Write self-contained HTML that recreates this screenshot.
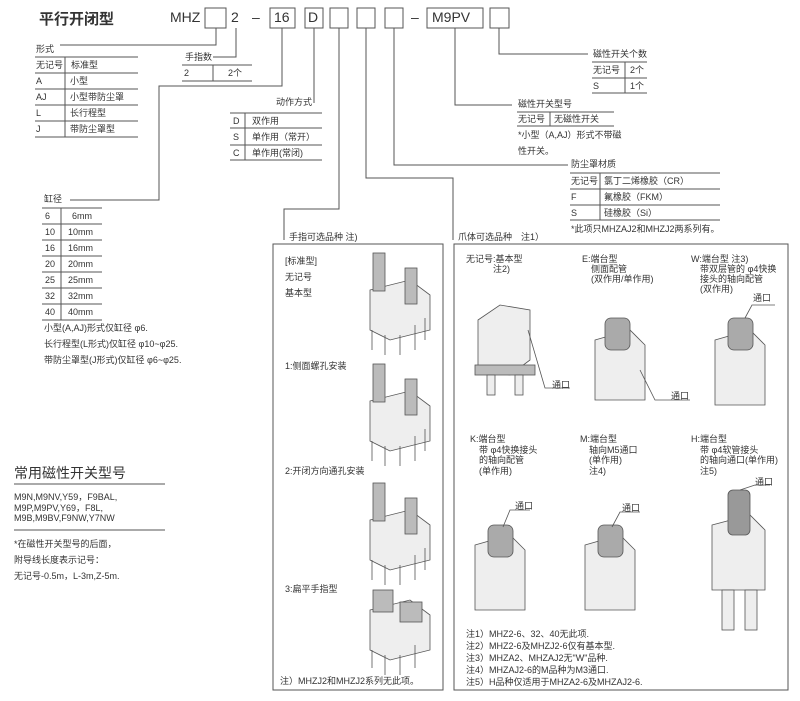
<!DOCTYPE html>
<html><head><meta charset="utf-8"><style>
body{margin:0;width:800px;height:701px;background:#fff;position:relative;overflow:hidden;font-family:"Liberation Sans","Noto Sans CJK SC",sans-serif;color:#333}
.t{position:absolute;font-size:9px;white-space:nowrap;line-height:1}
svg{position:absolute;left:0;top:0}
</style></head><body>
<svg width="800" height="701" viewBox="0 0 800 701">
<g fill="none" stroke="#555" stroke-width="1">
<!-- code boxes -->
<rect x="205" y="8" width="21" height="20"/><rect x="270" y="8" width="25" height="20"/><rect x="305" y="8" width="18" height="20"/>
<rect x="330" y="8" width="18" height="20"/><rect x="357" y="8" width="18" height="20"/><rect x="385" y="8" width="18" height="20"/>
<rect x="427" y="8" width="56" height="20"/><rect x="490" y="8" width="19" height="20"/>
<!-- connectors -->
<polyline points="216,28 216,45 60,45"/>
<polyline points="236,28 236,57 213,57"/>
<polyline points="282,28 282,86 159,86 159,200 70,200"/>
<polyline points="314,28 314,103"/>
<polyline points="339,28 339,209 284,209 284,240"/>
<polyline points="366,28 366,178 453,178 453,240"/>
<polyline points="394,28 394,165 568,165"/>
<polyline points="455,28 455,105 512,105"/>
<polyline points="499,28 499,54 588,54"/>
<!-- panels -->
<rect x="273" y="244" width="170" height="446"/>
<rect x="454" y="244" width="334" height="446"/>
</g>
<g stroke="#555" stroke-width="1">
<!-- 形式 table -->
<line x1="35" y1="57" x2="138" y2="57"/><line x1="35" y1="73" x2="138" y2="73"/><line x1="35" y1="89" x2="138" y2="89"/><line x1="35" y1="105" x2="138" y2="105"/><line x1="35" y1="121" x2="138" y2="121"/><line x1="35" y1="137" x2="138" y2="137"/><line x1="65" y1="57" x2="65" y2="137"/>
<!-- 手指数 -->
<line x1="182" y1="65" x2="252" y2="65"/><line x1="182" y1="81" x2="252" y2="81"/><line x1="213" y1="65" x2="213" y2="81"/>
<!-- 动作方式 -->
<line x1="230" y1="113" x2="322" y2="113"/><line x1="230" y1="128" x2="322" y2="128"/><line x1="230" y1="145" x2="322" y2="145"/><line x1="230" y1="160" x2="322" y2="160"/><line x1="245" y1="113" x2="245" y2="160"/>
<!-- 缸径 -->
<line x1="42" y1="208" x2="102" y2="208"/><line x1="42" y1="224" x2="102" y2="224"/><line x1="42" y1="240" x2="102" y2="240"/><line x1="42" y1="256" x2="102" y2="256"/><line x1="42" y1="272" x2="102" y2="272"/><line x1="42" y1="288" x2="102" y2="288"/><line x1="42" y1="304" x2="102" y2="304"/><line x1="42" y1="320" x2="102" y2="320"/><line x1="61" y1="208" x2="61" y2="320"/>
<!-- 常用 -->
<line x1="14" y1="484" x2="165" y2="484"/><line x1="14" y1="530" x2="165" y2="530"/>
<!-- 磁性开关个数 -->
<line x1="592" y1="62" x2="647" y2="62"/><line x1="592" y1="78" x2="647" y2="78"/><line x1="592" y1="93" x2="647" y2="93"/><line x1="625" y1="62" x2="625" y2="93"/>
<!-- 磁性开关型号 -->
<line x1="517" y1="112" x2="614" y2="112"/><line x1="517" y1="126" x2="614" y2="126"/><line x1="550" y1="112" x2="550" y2="126"/>
<!-- 防尘罩 -->
<line x1="570" y1="173" x2="720" y2="173"/><line x1="570" y1="189" x2="720" y2="189"/><line x1="570" y1="205" x2="720" y2="205"/><line x1="570" y1="220" x2="720" y2="220"/><line x1="600" y1="173" x2="600" y2="220"/>
</g>
<!-- gripper images left -->
<g fill="#ddd" stroke="#555" stroke-width="0.8">
<g id="gr"><path d="M370 290 L410 280 L430 295 L430 330 L390 340 L370 330Z" fill="#eee"/><rect x="373" y="253" width="12" height="38" fill="#bbb"/><rect x="405" y="268" width="12" height="36" fill="#bbb"/><path d="M372 330 V350 M385 335 V355 M400 335 V355 M415 325 V350 M425 318 V340" fill="none"/></g>
<use href="#gr" y="111"/><use href="#gr" y="230"/>
<path d="M370 610 L410 600 L430 615 L430 650 L390 660 L370 650Z" fill="#eee"/><rect x="373" y="590" width="20" height="22" fill="#bbb"/><rect x="400" y="602" width="22" height="20" fill="#bbb"/><path d="M372 650 V668 M385 655 V675 M400 655 V675 M415 645 V668" fill="none"/>
</g>
<!-- right images -->
<g fill="#eee" stroke="#555" stroke-width="0.8">
<path d="M478 320 L500 305 L530 310 L530 360 L510 375 L478 370Z"/><rect x="475" y="365" width="60" height="10" fill="#bbb"/><rect x="487" y="375" width="8" height="20"/><rect x="515" y="375" width="8" height="20"/>
<path d="M595 340 L630 330 L645 345 L645 400 L595 400Z"/><rect x="605" y="318" width="25" height="32" rx="6" fill="#aaa"/>
<path d="M715 340 L750 330 L765 345 L765 405 L715 405Z"/><rect x="728" y="318" width="25" height="32" rx="6" fill="#aaa"/>
<path d="M475 545 L510 535 L525 550 L525 610 L475 610Z"/><rect x="488" y="525" width="25" height="32" rx="6" fill="#aaa"/>
<path d="M585 545 L620 535 L635 550 L635 610 L585 610Z"/><rect x="598" y="525" width="25" height="32" rx="6" fill="#aaa"/>
<path d="M712 525 L750 515 L765 530 L765 590 L712 590Z"/><rect x="728" y="490" width="22" height="45" rx="5" fill="#999"/><rect x="722" y="590" width="12" height="40"/><rect x="745" y="590" width="12" height="40"/>
</g>
<g stroke="#555" fill="none" stroke-width="0.8">
<polyline points="528,330 545,388 570,388"/><polyline points="640,370 655,400 690,400"/><polyline points="745,318 752,305 775,305"/>
<polyline points="503,527 510,510 530,510"/><polyline points="612,527 620,512 640,512"/><polyline points="740,490 755,485 770,485"/>
</g>
</svg>
<div class="t" style="left:39px;top:12px;font-size:15px;font-weight:bold">平行开闭型</div>
<div class="t" style="left:170px;top:10px;font-size:14px">MHZ</div>
<div class="t" style="left:231px;top:10px;font-size:14px">2</div>
<div class="t" style="left:252px;top:10px;font-size:14px">–</div>
<div class="t" style="left:274px;top:10px;font-size:14px">16</div>
<div class="t" style="left:308px;top:10px;font-size:14px">D</div>
<div class="t" style="left:411px;top:10px;font-size:14px">–</div>
<div class="t" style="left:432px;top:10px;font-size:14px">M9PV</div>

<div class="t" style="left:36px;top:45px">形式</div>
<div class="t" style="left:36px;top:61px">无记号</div><div class="t" style="left:71px;top:61px">标准型</div>
<div class="t" style="left:36px;top:77px">A</div><div class="t" style="left:70px;top:77px">小型</div>
<div class="t" style="left:36px;top:93px">AJ</div><div class="t" style="left:70px;top:93px">小型带防尘罩</div>
<div class="t" style="left:36px;top:109px">L</div><div class="t" style="left:70px;top:109px">长行程型</div>
<div class="t" style="left:36px;top:125px">J</div><div class="t" style="left:70px;top:125px">带防尘罩型</div>

<div class="t" style="left:185px;top:53px">手指数</div>
<div class="t" style="left:184px;top:69px">2</div><div class="t" style="left:228px;top:69px">2个</div>
<div class="t" style="left:276px;top:98px">动作方式</div>
<div class="t" style="left:233px;top:117px">D</div><div class="t" style="left:252px;top:117px">双作用</div>
<div class="t" style="left:233px;top:133px">S</div><div class="t" style="left:252px;top:133px">单作用（常开）</div>
<div class="t" style="left:233px;top:149px">C</div><div class="t" style="left:252px;top:149px">单作用(常闭)</div>

<div class="t" style="left:44px;top:195px">缸径</div>
<div class="t" style="left:45px;top:212px">6</div><div class="t" style="left:72px;top:212px">6mm</div>
<div class="t" style="left:45px;top:228px">10</div><div class="t" style="left:68px;top:228px">10mm</div>
<div class="t" style="left:45px;top:244px">16</div><div class="t" style="left:68px;top:244px">16mm</div>
<div class="t" style="left:45px;top:260px">20</div><div class="t" style="left:68px;top:260px">20mm</div>
<div class="t" style="left:45px;top:276px">25</div><div class="t" style="left:68px;top:276px">25mm</div>
<div class="t" style="left:45px;top:292px">32</div><div class="t" style="left:68px;top:292px">32mm</div>
<div class="t" style="left:45px;top:308px">40</div><div class="t" style="left:68px;top:308px">40mm</div>
<div class="t" style="left:44px;top:324px">小型(A,AJ)形式仅缸径 φ6.</div>
<div class="t" style="left:44px;top:340px">长行程型(L形式)仅缸径 φ10~φ25.</div>
<div class="t" style="left:44px;top:356px">带防尘罩型(J形式)仅缸径 φ6~φ25.</div>

<div class="t" style="left:14px;top:466px;font-size:14px">常用磁性开关型号</div>
<div class="t" style="left:14px;top:492px;line-height:10.5px">M9N,M9NV,Y59，F9BAL,<br>M9P,M9PV,Y69，F8L,<br>M9B,M9BV,F9NW,Y7NW</div>
<div class="t" style="left:14px;top:540px">*在磁性开关型号的后面，</div>
<div class="t" style="left:14px;top:556px">附导线长度表示记号：</div>
<div class="t" style="left:14px;top:572px">无记号-0.5m，L-3m,Z-5m.</div>

<div class="t" style="left:593px;top:50px">磁性开关个数</div>
<div class="t" style="left:593px;top:66px">无记号</div><div class="t" style="left:630px;top:66px">2个</div>
<div class="t" style="left:593px;top:82px">S</div><div class="t" style="left:630px;top:82px">1个</div>
<div class="t" style="left:518px;top:100px">磁性开关型号</div>
<div class="t" style="left:518px;top:115px">无记号</div><div class="t" style="left:554px;top:115px">无磁性开关</div>
<div class="t" style="left:518px;top:131px">*小型（A,AJ）形式不带磁</div>
<div class="t" style="left:518px;top:147px">性开关。</div>
<div class="t" style="left:571px;top:160px">防尘罩材质</div>
<div class="t" style="left:571px;top:177px">无记号</div><div class="t" style="left:604px;top:177px">氯丁二烯橡胶（CR）</div>
<div class="t" style="left:571px;top:193px">F</div><div class="t" style="left:604px;top:193px">氟橡胶（FKM）</div>
<div class="t" style="left:571px;top:209px">S</div><div class="t" style="left:604px;top:209px">硅橡胶（Si）</div>
<div class="t" style="left:571px;top:225px">*此项只MHZAJ2和MHZJ2两系列有。</div>

<div class="t" style="left:289px;top:233px">手指可选品种 注)</div>
<div class="t" style="left:458px;top:233px">爪体可选品种　注1）</div>

<div class="t" style="left:285px;top:257px">[标准型]</div>
<div class="t" style="left:285px;top:273px">无记号</div>
<div class="t" style="left:285px;top:289px">基本型</div>
<div class="t" style="left:285px;top:362px">1:侧面螺孔安装</div>
<div class="t" style="left:285px;top:467px">2:开闭方向通孔安装</div>
<div class="t" style="left:285px;top:585px">3:扁平手指型</div>
<div class="t" style="left:280px;top:677px">注）MHZJ2和MHZJ2系列无此项。</div>

<div class="t" style="left:466px;top:254px;line-height:10px">无记号:基本型<br>　　　注2)</div>
<div class="t" style="left:582px;top:254px;line-height:10px">E:端台型<br>　侧面配管<br>　(双作用/单作用)</div>
<div class="t" style="left:691px;top:254px;line-height:10px">W:端台型 注3)<br>　带双层管的 φ4快换<br>　接头的轴向配管<br>　(双作用)</div>
<div class="t" style="left:552px;top:381px">通口</div>
<div class="t" style="left:671px;top:392px">通口</div>
<div class="t" style="left:753px;top:294px">通口</div>
<div class="t" style="left:470px;top:434px;line-height:10.5px">K:端台型<br>　带 φ4快换接头<br>　的轴向配管<br>　(单作用)</div>
<div class="t" style="left:580px;top:434px;line-height:10.5px">M:端台型<br>　轴向M5通口<br>　(单作用)<br>　注4)</div>
<div class="t" style="left:691px;top:434px;line-height:10.5px">H:端台型<br>　带 φ4软管接头<br>　的轴向通口(单作用)<br>　注5)</div>
<div class="t" style="left:515px;top:502px">通口</div>
<div class="t" style="left:622px;top:504px">通口</div>
<div class="t" style="left:755px;top:478px">通口</div>
<div class="t" style="left:466px;top:628px;line-height:12px">注1）MHZ2-6、32、40无此项.<br>注2）MHZ2-6及MHZJ2-6仅有基本型.<br>注3）MHZA2、MHZAJ2无"W"品种.<br>注4）MHZAJ2-6的M品种为M3通口.<br>注5）H品种仅适用于MHZA2-6及MHZAJ2-6.</div>
</body></html>
